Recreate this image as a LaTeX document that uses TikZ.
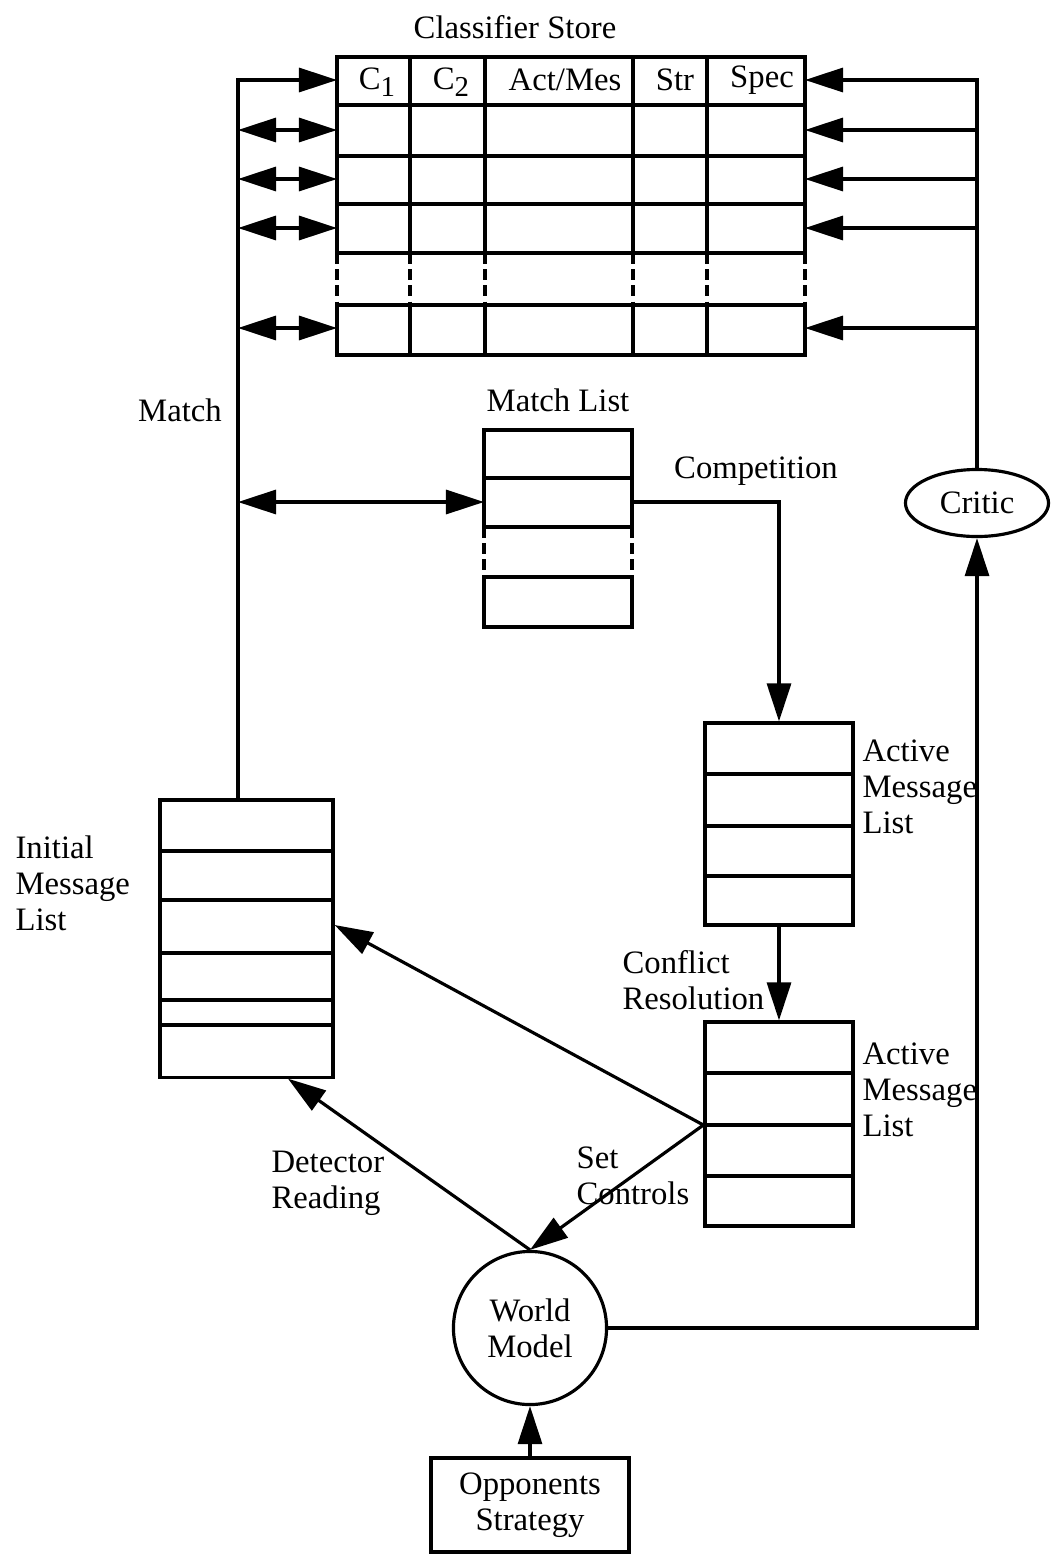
\documentclass[tikz,border=0pt]{standalone}
\usepackage{fontspec}
\setmainfont{Liberation Serif}
\usepackage{tikz}
\usetikzlibrary{arrows.meta, positioning, shapes.geometric, calc}
\newcommand{\lowsub}[1]{\raisebox{-0.45ex}{\fontsize{8.2}{8.2}\selectfont #1}}
\tikzset{
    listbox/.style={
        rectangle, draw, line width=0.9pt, inner sep=0pt
    },
    gapline/.style={
        dash pattern=on 3pt off 1.6pt
    },
    lbl/.style={
        anchor=west, align=left, inner sep=0pt
    },
    flowarrow/.style={
        -{Triangle[length=3.8mm, width=2.4mm]}, line width=0.9pt
    },
    duoarrow/.style={
        {Triangle[length=3.8mm, width=2.4mm]}-{Triangle[length=3.8mm, width=2.4mm]}, line width=0.9pt
    },
}

\begin{document}
\begin{tikzpicture}[x=0.01cm, y=-0.01cm, line width=0.9pt, font=\fontsize{9.3}{10.2}\selectfont]
    \useasboundingbox (0,0) rectangle (1051,1554);

    % Classifier store
    \draw (337,57) rectangle (805,253);
    \draw (337,305) rectangle (805,355);
    \foreach \y in {105,156,204} \draw (337,\y) -- (805,\y);
    \foreach \x in {410,485,633,707} {
        \draw (\x,57) -- (\x,253);
        \draw (\x,305) -- (\x,355);
    }
    \foreach \x in {337,410,485,633,707,805} \draw[gapline] (\x,253) -- (\x,305);
    \node (store) at (515,27) {Classifier Store};
    \node (hc1) at (377,82) {C\lowsub{1}};
    \node (hc2) at (451,82) {C\lowsub{2}};
    \node (hact) at (565,80) {Act/Mes};
    \node (hstr) at (675,80) {Str};
    \node (hspec) at (762,80) {Spec};
    \coordinate (hdrL) at (337,80);
    \coordinate (hdrR) at (805,80);
    \coordinate (bus) at (238,80);
    \foreach \y [count=\i] in {130,179,228,328} {
        \coordinate (rowL\i) at (337,\y);
        \coordinate (rowR\i) at (805,\y);
    }

    % Match list
    \draw (484,430) rectangle (632,527);
    \draw (484,577) rectangle (632,627);
    \draw (484,478) -- (632,478);
    \foreach \x in {484,632} \draw[gapline] (\x,527) -- (\x,577);
    \node (mtitle) at (558,400) {Match List};
    \coordinate (mlL) at (484,502);
    \coordinate (mlR) at (632,502);

    % Message lists
    \node[listbox, minimum width=1.48cm, minimum height=2.02cm] (aml1) at (779,824) {};
    \foreach \y in {774,826,876} \draw (aml1.west |- 0,\y) -- (aml1.east |- 0,\y);
    \node[listbox, minimum width=1.48cm, minimum height=2.04cm] (aml2) at (779,1124) {};
    \foreach \y in {1073,1125,1176} \draw (aml2.west |- 0,\y) -- (aml2.east |- 0,\y);
    \node[listbox, minimum width=1.73cm, minimum height=2.77cm] (iml) at (246.5,938.5) {};
    \foreach \y in {851,900,953,1000,1025} \draw (iml.west |- 0,\y) -- (iml.east |- 0,\y);

    % Critic, world model, opponents
    \node[ellipse, draw, minimum width=1.43cm, minimum height=0.67cm, inner sep=0pt] (critic) at (977,503) {Critic};
    \node[circle, draw, minimum size=1.53cm, align=center, inner sep=0pt] (world) at (530,1328) {World\\Model};
    \node[listbox, minimum width=1.98cm, minimum height=0.94cm, align=center] (opp) at (530,1505) {Opponents\\Strategy};

    % Labels
    \node (match) at (180,410) {Match};
    \node (comp) at (756,471) {Competition};
    \node[lbl] (aml1lab) at (861,787) {Active\\Message\\List};
    \node[lbl] (aml2lab) at (861,1090) {Active\\Message\\List};
    \node[lbl] (conflict) at (621,980) {Conflict\\Resolution};
    \node[lbl] (imllab) at (14,883) {Initial\\Message\\List};
    \node[lbl] (detect) at (270,1183) {Detector\\Reading};
    \node[lbl] (setctl) at (575,1176) {Set\\Controls};

    % Connections
    \draw[flowarrow] (iml.north -| bus) -- (bus) -- (hdrL);
    \foreach \i in {1,...,4} \draw[duoarrow] (bus |- rowL\i) -- (rowL\i);
    \draw[duoarrow] (bus |- mlL) -- (mlL);
    \draw[flowarrow] (critic.north) -- (critic.north |- hdrR) -- (hdrR);
    \foreach \i in {1,...,4} \draw[flowarrow] (critic.north |- rowR\i) -- (rowR\i);
    \draw[flowarrow] (mlR) -| (aml1.north);
    \draw[flowarrow] (aml1.south) -- (aml2.north);
    \coordinate (fork) at (aml2.west |- 0,1125);
    \draw[flowarrow] (fork) -- (iml.east |- 0,925);
    \draw[flowarrow] (fork) -- (world.north);
    \draw[flowarrow] (world.north) -- (iml.south -| 288,0);
    \draw[flowarrow] (opp.north) -- (world.south);
    \draw[flowarrow] (world.east) -| (critic.south);

\end{tikzpicture}
\end{document}
